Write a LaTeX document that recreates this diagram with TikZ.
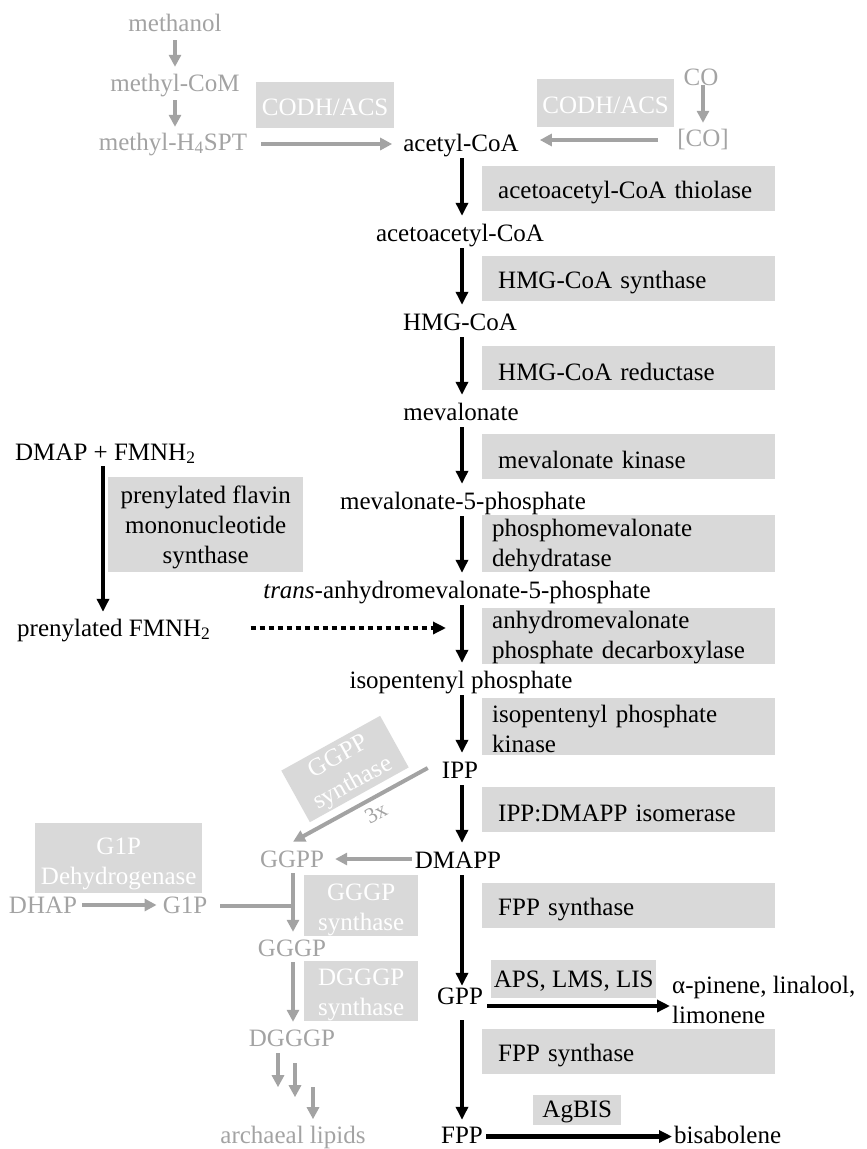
\documentclass[tikz,border=0pt]{standalone}
\usepackage{fontspec}
\setmainfont{Liberation Serif}
\usetikzlibrary{arrows.meta}
\definecolor{gtext}{HTML}{A3A3A3}
\definecolor{boxfill}{HTML}{D9D9D9}
\newcommand\mystrut[1]{\rule{0pt}{#1}}
\begin{document}
\begin{tikzpicture}[x=1pt,y=-1pt,
  every node/.style={inner sep=0pt,font=\fontsize{25}{30}\selectfont},
  lbl/.style={anchor=base,text height=18pt,text depth=6pt},
  glbl/.style={lbl,text=gtext},
  mbox/.style={fill=boxfill,anchor=north west,align=left,inner xsep=16pt,text width=261pt},
  mboxtwo/.style={fill=boxfill,anchor=north west,align=left,inner xsep=10pt,text width=273pt},
  wbox/.style={fill=boxfill,text=white,align=center,anchor=north west},
  cbox/.style={fill=boxfill,align=center,anchor=north west},
  barrow/.style={draw=black,line width=4.5pt,-{Triangle[length=13pt,width=12pt]}},
  garrow/.style={draw=gtext,line width=4pt,-{Triangle[length=12pt,width=12pt]}},
  gline/.style={draw=gtext,line width=4pt},
  dotarrow/.style={draw=black,line width=4pt,dash pattern=on 5pt off 4pt,-{Triangle[length=13pt,width=12pt]}},
]
\useasboundingbox (0,0) rectangle (867,1149);
\coordinate (col) at (462,0);
\coordinate (dcol) at (103,0);

% ---------- grey boxes with white text ----------
\node[wbox,minimum width=138pt,minimum height=46pt] (codhA) at (256,82) {\mystrut{20pt}CODH/ACS};
\node[wbox,minimum width=137pt,minimum height=48pt] (codhB) at (537,79) {\mystrut{20pt}CODH/ACS};
\node[wbox,minimum width=167pt,minimum height=70pt] (gdh) at (35,823) {\mystrut{27pt}G1P\\Dehydrogenase};
\node[wbox,minimum width=114pt,minimum height=57pt] (gggps) at (304,875) {\mystrut{25pt}GGGP\\synthase};
\node[wbox,minimum width=114pt,minimum height=58pt] (dgggps) at (304,961) {\mystrut{24pt}DGGGP\\synthase};
\node[fill=boxfill,text=white,align=center,rotate=29,minimum width=113pt,minimum height=59pt] (ggpps) at (345,769) {\mystrut{21pt}GGPP\\synthase};
\node[text=gtext,rotate=29,font=\fontsize{22}{26}\selectfont] (three) at (376,813) {3x};

% ---------- enzyme boxes ----------
\node[mbox,minimum height=45pt] (b1) at (482,166) {\mystrut{24pt}acetoacetyl-CoA thiolase};
\node[mbox,minimum height=45pt] (b2) at (482,256) {\mystrut{24pt}HMG-CoA synthase};
\node[mbox,minimum height=44pt] (b3) at (482,346) {\mystrut{24pt}HMG-CoA reductase};
\node[mbox,minimum height=45pt] (b4) at (482,434) {\mystrut{24pt}mevalonate kinase};
\node[mboxtwo,minimum height=57pt] (b5) at (482,515) {\mystrut{21pt}phosphomevalonate\\dehydratase};
\node[mboxtwo,minimum height=55pt] (b6) at (482,608) {\mystrut{20pt}anhydromevalonate\\phosphate decarboxylase};
\node[mboxtwo,minimum height=57pt] (b7) at (482,698) {\mystrut{21pt}isopentenyl phosphate\\kinase};
\node[mbox,minimum height=45pt] (b8) at (482,787) {\mystrut{24pt}IPP:DMAPP isomerase};
\node[mbox,minimum height=45pt] (b9) at (482,883) {\mystrut{24pt}FPP synthase};
\node[mbox,minimum height=45pt] (b10) at (482,1029) {\mystrut{24pt}FPP synthase};
\node[cbox,minimum width=165pt,minimum height=38pt] (aps) at (491,960) {\mystrut{20pt}APS, LMS, LIS};
\node[cbox,minimum width=88pt,minimum height=30pt] (agbis) at (533,1095) {\mystrut{19pt}AgBIS};
\node[cbox,minimum width=195pt,minimum height=95pt] (pfbox) at (108,477) {\mystrut{23pt}prenylated flavin\\mononucleotide\\synthase};

% ---------- grey metabolites ----------
\node[glbl] (methanol) at (175,31) {methanol};
\node[glbl] (methylCoM) at (175,91) {methyl-CoM};
\node[glbl] (methylH) at (173,150) {methyl-H\textsubscript{4}SPT};
\node[glbl] (CO) at (701,85) {CO};
\node[glbl] (COb) at (703,146) {[CO]};
\node[glbl] (GGPP) at (292,867) {GGPP};
\node[glbl] (GGGP) at (292,956) {GGGP};
\node[glbl] (DGGGP) at (292,1046) {DGGGP};
\node[glbl,text depth=5pt] (lipids) at (293,1143) {archaeal lipids};
\node[glbl] (DHAP) at (43,913) {DHAP};
\node[glbl] (G1P) at (185,913) {G1P};

% ---------- black metabolites ----------
\node[lbl] (acetyl) at (461,151) {acetyl-CoA};
\node[lbl] (acac) at (460,241) {acetoacetyl-CoA};
\node[lbl] (HMG) at (460,330) {HMG-CoA};
\node[lbl] (mev) at (461,420) {mevalonate};
\node[lbl] (mevp) at (463,509) {mevalonate-5-phosphate};
\node[lbl] (trans) at (457,598) {\textit{trans}-anhydromevalonate-5-phosphate};
\node[lbl] (ipph) at (461,688) {isopentenyl phosphate};
\node[lbl] (IPP) at (460,778) {IPP};
\node[lbl] (DMAPP) at (458,868) {DMAPP};
\node[lbl] (GPP) at (460,1004) {GPP};
\node[lbl,text depth=5pt] (FPP) at (462,1143) {FPP};
\node[anchor=north west,align=left] (alpha) at (672,976) {α-pinene, linalool,\\limonene};
\node[lbl,anchor=base west,text depth=5pt] (bisab) at (674,1143) {bisabolene};
\node[lbl,anchor=base west] (dmap) at (15,460) {DMAP + FMNH\textsubscript{2}};
\node[lbl,anchor=base west] (pfmn) at (17,636) {prenylated FMNH\textsubscript{2}};
\coordinate (dotend) at (446,628);

% ---------- black connectors ----------
\begin{scope}[shorten <=1pt,shorten >=7pt]
\draw[barrow] (acetyl.south -| col) -- (acac.north -| col);
\draw[barrow] (acac.south -| col) -- (HMG.north -| col);
\draw[barrow] (HMG.south -| col) -- (mev.north -| col);
\draw[barrow] (mev.south -| col) -- (mevp.north -| col);
\draw[barrow] (mevp.south -| col) -- (trans.north -| col);
\draw[barrow] (trans.south -| col) -- (ipph.north -| col);
\draw[barrow] (ipph.south -| col) -- (IPP.north -| col);
\draw[barrow] (IPP.south -| col) -- (DMAPP.north -| col);
\end{scope}
\draw[barrow,shorten <=1pt,shorten >=0pt] (DMAPP.south -| col) -- (GPP.north -| col);
\draw[barrow,shorten <=10pt,shorten >=5pt] (GPP.south -| col) -- (FPP.north -| col);
\draw[barrow,shorten >=2pt] ([xshift=4pt,yshift=-2pt]GPP.base east) coordinate (gs) -- (gs -| alpha.west);
\draw[barrow,shorten <=3pt,shorten >=2pt] (FPP.east) -- (bisab.west);
\draw[barrow,shorten >=6pt] (dmap.south -| dcol) -- (pfmn.north -| dcol);
\draw[dotarrow] ([xshift=40pt,yshift=2pt]pfmn.east) -- (dotend);

% ---------- grey connectors ----------
\draw[garrow,shorten <=3pt,shorten >=6pt] (methanol.south) -- (methylCoM.north);
\draw[garrow,shorten <=3pt,shorten >=5pt] (methylCoM.south) -- (methylCoM.south |- methylH.north);
\draw[garrow,shorten <=14pt,shorten >=11pt] (methylH.east) -- (methylH.east -| acetyl.west);
\draw[garrow,shorten >=5pt] (COb.north |- CO.base) -- (COb.north);
\draw[garrow,shorten <=19pt,shorten >=21pt] (COb.west) -- (COb.west -| acetyl.east);
\draw[garrow,shorten <=3pt,shorten >=11pt] ([yshift=3pt]DMAPP.west) -- ([yshift=3pt]DMAPP.west -| GGPP.east);
\draw[garrow] ([xshift=-14pt,yshift=4pt]IPP.west) -- ([xshift=1pt,yshift=7pt]GGPP.north);
\draw[garrow,shorten >=6pt] ([xshift=1pt]GGPP.south) -- ([xshift=1pt]GGPP.south |- GGGP.north);
\draw[gline,shorten <=13pt] ([yshift=1pt]G1P.east) -- ([yshift=1pt]G1P.east -| GGPP.south);
\draw[garrow,shorten >=6pt] ([xshift=1pt]GGGP.south) -- ([xshift=1pt]GGGP.south |- DGGGP.north);
\draw[garrow,shorten <=5pt,shorten >=6pt] ([yshift=2pt]DHAP.east) -- ([yshift=2pt]DHAP.east -| G1P.west);
\draw[garrow] ([xshift=-14pt,yshift=-1pt]DGGGP.south) -- ++(0,34);
\draw[garrow] ([xshift=3pt,yshift=-11pt]DGGGP.south) -- ++(0,34);
\draw[garrow] ([xshift=21pt,yshift=-35pt]DGGGP.south) -- ++(0,32);
\end{tikzpicture}
\end{document}
